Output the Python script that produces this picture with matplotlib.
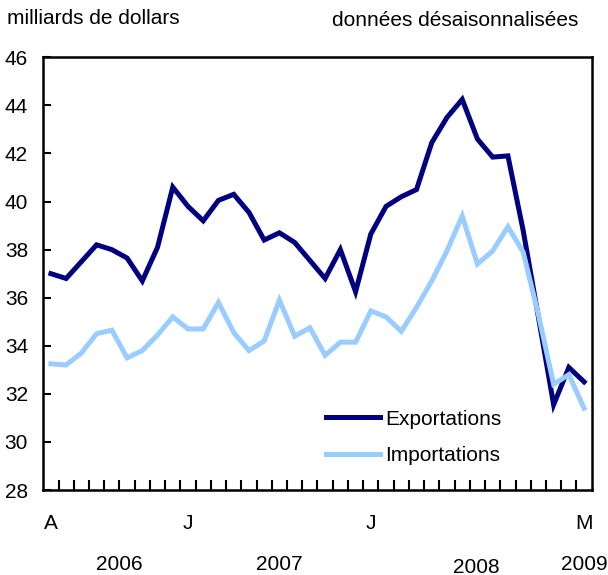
"""Exportations / importations mensuelles, avril 2006 a mars 2009 (donnees desaisonnalisees)."""

import matplotlib

matplotlib.use("Agg")
import matplotlib.pyplot as plt
import numpy as np

plt.rcParams["font.family"] = ["Liberation Sans", "DejaVu Sans"]

# monthly values, April 2006 .. March 2009 (billions of dollars)
exports = [37.0, 36.8, 37.5, 38.2, 38.0, 37.65, 36.7, 38.1, 40.6, 39.8, 39.2, 40.05,
           40.3, 39.55, 38.4, 38.7, 38.3, 37.55, 36.8, 38.0, 36.25, 38.65, 39.8, 40.2,
           40.5, 42.45, 43.5, 44.25, 42.6, 41.85, 41.9, 38.8, 35.2, 31.55, 33.1, 32.5]
imports = [33.25, 33.2, 33.7, 34.5, 34.65, 33.5, 33.8, 34.45, 35.2, 34.7, 34.7, 35.8,
           34.55, 33.8, 34.2, 35.9, 34.4, 34.75, 33.6, 34.15, 34.15, 35.45, 35.2, 34.6,
           35.6, 36.7, 37.95, 39.4, 37.4, 37.95, 38.95, 37.9, 35.3, 32.4, 32.8, 31.4]
series_names = ["Exportations", "Importations"]

month_tick_idx = [0, 9, 21, 35]
month_tick_labels = ["A", "J", "J", "M"]
year_idx = [4.5, 15.0, 27.9, 35.0]
year_labels = ["2006", "2007", "2008", "2009"]
y_ticks = list(range(28, 47, 2))

FS = 15
COL_EXP = "#000080"
COL_IMP = "#99CCFF"

fig = plt.figure(figsize=(6.08, 5.75), dpi=100, facecolor="white")
ax = fig.add_axes([0.0712, 0.1478, 0.902, 0.7525])

x = np.arange(len(exports))
ax.plot(x, exports, color=COL_EXP, lw=3.6, label=series_names[0], solid_joinstyle="miter")
ax.plot(x, imports, color=COL_IMP, lw=3.6, label=series_names[1], solid_joinstyle="miter")

ax.set_xlim(-0.5, len(exports) - 0.5)
ax.set_ylim(28, 46)

for s in ax.spines.values():
    s.set_linewidth(1.8)
    s.set_color("black")

ax.set_yticks(y_ticks)
ax.set_yticklabels([str(v) for v in y_ticks])
ax.tick_params(axis="y", direction="in", length=6, width=1.5, pad=11, labelsize=FS)

ax.set_xticks(month_tick_idx)
ax.set_xticklabels(month_tick_labels)
ax.set_xticks(np.arange(0.5, len(exports) - 1, 1.0), minor=True)
ax.tick_params(axis="x", which="major", length=0, pad=17, labelsize=FS)
ax.tick_params(axis="x", which="minor", direction="in", length=7, width=1.5)

# year labels sit on a second row under the month letters
for xi, lab in zip(year_idx, year_labels):
    yy = -0.178 if lab == "2008" else -0.173
    ax.text(xi, yy, lab, transform=ax.get_xaxis_transform(), ha="center", va="center",
            fontsize=FS)

ax.legend(loc="upper left", bbox_to_anchor=(0.5, 0.205), frameon=False, fontsize=FS,
          handlelength=2.6, handletextpad=0.25, labelspacing=0.85, borderaxespad=0)

fig.text(7 / 608, 1 - 18 / 575, "milliards de dollars", ha="left", va="center", fontsize=FS)
fig.text(578 / 608, 1 - 20 / 575, "données désaisonnalisées", ha="right", va="center",
         fontsize=FS)

fig.savefig("out.png", dpi=100, facecolor="white")
